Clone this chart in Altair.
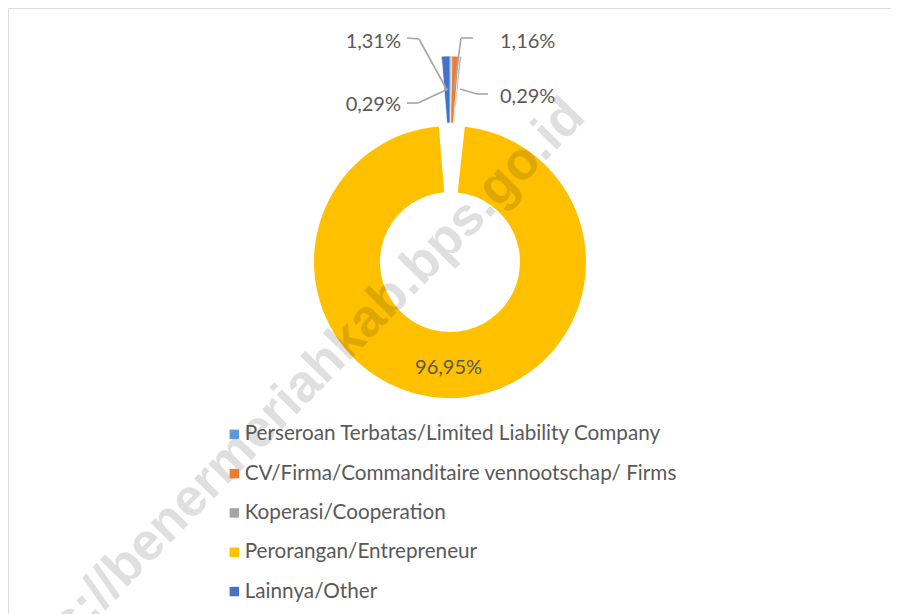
import altair as alt
import pandas as pd

# ---- data ----
categories = [
    "Perseroan Terbatas/Limited Liability Company",
    "CV/Firma/Commanditaire vennootschap/ Firms",
    "Koperasi/Cooperation",
    "Perorangan/Entrepreneur",
    "Lainnya/Other",
]
shares = [0.29, 1.16, 0.29, 96.95, 1.31]
share_labels = ["0,29%", "1,16%", "0,29%", "96,95%", "1,31%"]
colors = ["#5B9BD5", "#ED7D31", "#A5A5A5", "#FFC000", "#4472C4"]

# small-slice label annotations (text, anchor x/y in px, alignment)
note_text = ["1,31%", "0,29%", "1,16%", "0,29%"]
note_x = [393, 393, 492, 492]
note_y = [34, 97, 34, 89]
note_align = ["right", "right", "left", "left"]

# leader line segments (px)
seg_x = [399, 411, 465, 453, 399, 410, 480, 469]
seg_y = [30, 31, 30, 30, 95, 95, 86, 86]
seg_x2 = [411, 439, 453, 446, 410, 440, 469, 452]
seg_y2 = [31, 82, 30, 82, 95, 81, 86, 81]

FONT = "Lato"
TXT = "#595959"

df = pd.DataFrame({
    "cat": categories,
    "share": shares,
    "label": share_labels,
    "idx": list(range(len(categories))),
})

CX, CY = 442, 254          # ring centre (px)
SX, SY = 442, 152          # apex of exploded small slices (px)

theta = alt.Theta("share:Q", stack=True)
order = alt.Order("idx:Q")
color = alt.Color(
    "cat:N",
    sort=categories,
    scale=alt.Scale(domain=categories, range=colors),
    legend=alt.Legend(
        title=None,
        orient="none",
        legendX=216,
        legendY=416,
        symbolType="square",
        symbolSize=90,
        symbolStrokeWidth=0,
        labelFont=FONT,
        labelFontSize=20.7,
        labelColor=TXT,
        labelOffset=0,
        labelLimit=600,
        rowPadding=17.3,
        padding=0,
    ),
)

base = alt.Chart(df)

ring = base.mark_arc(outerRadius=136, innerRadius=70, x=CX, y=CY).encode(
    theta=theta,
    order=order,
    color=color,
    opacity=alt.condition("datum.idx == 3", alt.value(1), alt.value(0)),
)

small = base.mark_arc(outerRadius=104, innerRadius=37, x=SX, y=SY,
                      stroke="white", strokeWidth=0.6).encode(
    theta=theta,
    order=order,
    color=alt.Color("cat:N", sort=categories,
                    scale=alt.Scale(domain=categories, range=colors), legend=None),
    opacity=alt.condition("datum.idx == 3", alt.value(0), alt.value(1)),
)

big_label = base.mark_text(radius=106, x=CX, y=CY, font=FONT, fontSize=20,
                           color=TXT).encode(
    theta=theta,
    order=order,
    text="label:N",
    opacity=alt.condition("datum.idx == 3", alt.value(1), alt.value(0)),
)

notes_df = pd.DataFrame({"t": note_text, "x": note_x, "y": note_y, "a": note_align})
notes_l = alt.Chart(notes_df).transform_filter("datum.a == 'right'").mark_text(
    font=FONT, fontSize=20, color=TXT, align="right", baseline="middle"
).encode(x=alt.X("x:Q", scale=None), y=alt.Y("y:Q", scale=None), text="t:N")
notes_r = alt.Chart(notes_df).transform_filter("datum.a == 'left'").mark_text(
    font=FONT, fontSize=20, color=TXT, align="left", baseline="middle"
).encode(x=alt.X("x:Q", scale=None), y=alt.Y("y:Q", scale=None), text="t:N")

seg_df = pd.DataFrame({"x": seg_x, "y": seg_y, "x2": seg_x2, "y2": seg_y2})
leaders = alt.Chart(seg_df).mark_rule(color="#A6A6A6", strokeWidth=1.6).encode(
    x=alt.X("x:Q", scale=None), y=alt.Y("y:Q", scale=None),
    x2="x2:Q", y2="y2:Q",
)

wm = alt.Chart(pd.DataFrame({"t": ["https://benermeriahkab.bps.go.id"]})).mark_text(
    font="Liberation Sans", fontWeight="bold", fontSize=53, angle=314.5,
    align="center", baseline="alphabetic", color="black", opacity=0.12,
    x=286, y=409, clip=True,
).encode(text="t:N")

chart = alt.layer(ring, small, big_label, leaders, notes_l, notes_r, wm).properties(
    width=883, height=610, padding=0,
    autosize=alt.AutoSizeParams(type="none"),
).configure_view(stroke="#D0D0D0", strokeWidth=2).configure(background="white")

chart.save("out.html", embed_options={"renderer": "svg", "actions": False})
